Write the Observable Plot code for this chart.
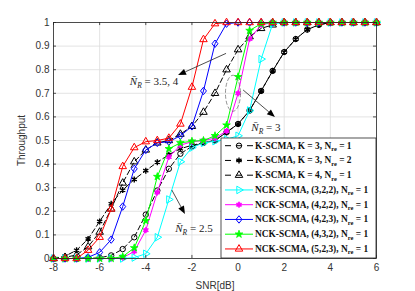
<!DOCTYPE html>
<html><head><meta charset="utf-8">
<script src="https://cdn.jsdelivr.net/npm/d3@7"></script>
<script src="https://cdn.jsdelivr.net/npm/@observablehq/plot@0.6"></script>
<style>body{margin:0;background:#fff}</style>
</head><body><div id="chart"></div>
<script>
const snr = [-8,-7.5,-7,-6.5,-6,-5.5,-5,-4.5,-4,-3.5,-3,-2.5,-2,-1.5,-1,-0.5,0,0.5,1,1.5,2,2.5,3,3.5,4,4.5,5,5.5,6];
const thrK3N1 = [0,0,0,0,0.003,0.013,0.04,0.09,0.186,0.288,0.38,0.444,0.475,0.49,0.5,0.535,0.57,0.627,0.71,0.795,0.875,0.93,0.97,0.99,1,1,1,1,1];
const thrK3N2 = [0,0.01,0.035,0.083,0.157,0.232,0.29,0.335,0.372,0.408,0.44,0.465,0.48,0.49,0.5,0.535,0.57,0.627,0.71,0.795,0.875,0.93,0.97,0.99,1,1,1,1,1];
const thrK4N1 = [0,0.005,0.015,0.05,0.112,0.21,0.32,0.41,0.46,0.49,0.5,0.527,0.56,0.62,0.70,0.80,0.885,0.94,0.975,0.99,1,1,1,1,1,1,1,1,1];
const thr322 = [0,0,0,0,0,0,0,0.004,0.02,0.09,0.25,0.41,0.47,0.49,0.497,0.505,0.52,0.627,0.845,0.995,1,1,1,1,1,1,1,1,1];
const thr422 = [0,0,0,0,0,0,0.003,0.03,0.12,0.28,0.43,0.48,0.495,0.5,0.51,0.54,0.70,0.93,0.99,1,1,1,1,1,1,1,1,1,1];
const thr423 = [0,0,0,0.005,0.026,0.08,0.22,0.38,0.46,0.49,0.495,0.52,0.56,0.71,0.91,0.995,1,1,1,1,1,1,1,1,1,1,1,1,1];
const thr432 = [0,0,0,0,0,0,0.008,0.045,0.16,0.347,0.465,0.49,0.497,0.5,0.52,0.565,0.77,0.966,0.995,1,1,1,1,1,1,1,1,1,1];
const thr523 = [0,0,0,0.035,0.09,0.21,0.39,0.47,0.495,0.5,0.51,0.57,0.726,0.928,0.995,1,1,1,1,1,1,1,1,1,1,1,1,1,1];

const seriesNames = ["K-SCMA, K = 3, N_re = 1","K-SCMA, K = 3, N_re = 2","K-SCMA, K = 4, N_re = 1",
  "NCK-SCMA, (3,2,2), N_re = 1","NCK-SCMA, (4,2,2), N_re = 1","NCK-SCMA, (4,2,3), N_re = 1",
  "NCK-SCMA, (4,3,2), N_re = 1","NCK-SCMA, (5,2,3), N_re = 1"];
const xTicks = [-8,-6,-4,-2,0,2,4,6];
const yTicks = [0,0.1,0.2,0.3,0.4,0.5,0.6,0.7,0.8,0.9,1];
const yTickLabels = ["0","0.1","0.2","0.3","0.4","0.5","0.6","0.7","0.8","0.9","1"];

const annoLabels = ["3.5, 4","3","2.5"];
const annoX = [-3.62,1.23,-1.89];
const annoY = [0.75,0.555,0.127];
const arrowX1 = [-0.5,0.24,-2.85], arrowY1 = [0.867,0.712,0.288];
const arrowX2 = [-2.58,1.62,-2.28], arrowY2 = [0.775,0.597,0.186];
const ellipseX = [-0.2], ellipseY = [0.698];

// symbols
const triRight = {draw(ctx,size){const y=-Math.sqrt(size/(Math.sqrt(3)*3)); ctx.moveTo(-2*y,0); ctx.lineTo(y,-Math.sqrt(3)*y); ctx.lineTo(y,Math.sqrt(3)*y); ctx.closePath();}};
const hexagram = {draw(ctx,size){const R=Math.sqrt(size/2.2), r=R/Math.sqrt(3); for(let i=0;i<12;i++){const a=i*Math.PI/6-Math.PI/2, rr=i%2?r:R; const px=rr*Math.cos(a), py=rr*Math.sin(a); if(i===0)ctx.moveTo(px,py); else ctx.lineTo(px,py);} ctx.closePath();}};
const diamondM = {draw(ctx,size){const h=Math.sqrt(size)*0.75, w=h*0.8; ctx.moveTo(0,-h); ctx.lineTo(w,0); ctx.lineTo(0,h); ctx.lineTo(-w,0); ctx.closePath();}};
const triUp = {draw(ctx,size){const y=-Math.sqrt(size/(Math.sqrt(3)*3)); ctx.moveTo(0,2*y); ctx.lineTo(-Math.sqrt(3)*y,-y); ctx.lineTo(Math.sqrt(3)*y,-y); ctx.closePath();}};

const styles = [
  {v:thrK3N1, color:"#000", dash:"5,3", sym:d3.symbolCircle, fill:"none", r:2.7, sw:1},
  {v:thrK3N2, color:"#000", dash:"5,3", sym:d3.symbolAsterisk, fill:"none", r:2.8, sw:1.4},
  {v:thrK4N1, color:"#000", dash:"5,3", sym:triUp, fill:"none", r:2.8, sw:1},
  {v:thr322, color:"#00ffff", dash:null, sym:triRight, fill:"none", r:2.8, sw:1},
  {v:thr422, color:"#ff00ff", dash:null, sym:hexagram, fill:"#ff00ff", r:2.5, sw:0.8},
  {v:thr423, color:"#0000ff", dash:null, sym:diamondM, fill:"none", r:2.8, sw:1},
  {v:thr432, color:"#00ff00", dash:null, sym:d3.symbolStar, fill:"#00ff00", r:2.4, sw:0.8},
  {v:thr523, color:"#ff0000", dash:null, sym:triUp, fill:"none", r:2.8, sw:1}
];

const marks = [
  Plot.gridX(xTicks, {stroke:"#dcdcdc", strokeOpacity:1, strokeWidth:0.8}),
  Plot.gridY(yTicks, {stroke:"#dcdcdc", strokeOpacity:1, strokeWidth:0.8}),
];
styles.forEach((s,k)=>{
  const data = snr.map((x,i)=>({x, y:s.v[i]}));
  marks.push(Plot.line(data, {x:"x", y:"y", stroke:s.color, strokeWidth:1, strokeDasharray:s.dash||undefined}));
  marks.push(Plot.dot(data, {x:"x", y:"y", symbol:s.sym, r:s.r, stroke:s.color, fill:s.fill, strokeWidth:s.sw}));
});
marks.push(
  Plot.ruleX(xTicks, {x:d=>d, y1:0, y2:0.013, stroke:"#262626", strokeWidth:0.8}),
  Plot.ruleX(xTicks, {x:d=>d, y1:0.987, y2:1, stroke:"#262626", strokeWidth:0.8}),
  Plot.ruleY(yTicks, {y:d=>d, x1:-8, x2:-7.87, stroke:"#262626", strokeWidth:0.8}),
  Plot.ruleY(yTicks, {y:d=>d, x1:5.87, x2:6, stroke:"#262626", strokeWidth:0.8}),
  Plot.frame({stroke:"#262626", strokeWidth:0.8}),
  Plot.axisX(xTicks, {tickSize:0, tickPadding:5, tickFormat:d=>String(d), fontSize:10, fill:"#333",
    label:"SNR[dB]", labelAnchor:"center", labelArrow:false, labelOffset:30}),
  Plot.axisY(yTicks, {tickSize:0, tickPadding:4, tickFormat:(d,i)=>yTickLabels[i], fontSize:10, fill:"#333",
    label:"Throughput", labelAnchor:"center", labelArrow:false, labelOffset:36})
);

const plot = Plot.plot({
  width:415, height:291, marginLeft:53, marginRight:39, marginTop:22, marginBottom:33,
  style:{fontFamily:"Liberation Sans, Arial, sans-serif", fontSize:"10px", color:"#333", background:"#fff"},
  x:{domain:[-8,6]}, y:{domain:[0,1]},
  marks
});
document.getElementById("chart").appendChild(plot);

const svg = d3.select(plot);
const xs = plot.scale("x"), ys = plot.scale("y");
const X = v=>xs.apply(v), Y = v=>ys.apply(v);

// annotations
const ann = svg.append("g");
ann.append("ellipse").attr("cx",X(ellipseX[0])).attr("cy",Y(ellipseY[0])).attr("rx",7.5).attr("ry",18)
  .attr("fill","none").attr("stroke","#777").attr("stroke-width",0.8).attr("stroke-dasharray","4,2");
for(let i=0;i<3;i++){
  const x1=X(arrowX1[i]), y1=Y(arrowY1[i]), x2=X(arrowX2[i]), y2=Y(arrowY2[i]);
  const ang=Math.atan2(y2-y1,x2-x1), L=8, W=3.2;
  const bx=x2-L*Math.cos(ang), by=y2-L*Math.sin(ang);
  ann.append("line").attr("x1",x1).attr("y1",y1).attr("x2",bx).attr("y2",by).attr("stroke","#222").attr("stroke-width",0.8);
  ann.append("path").attr("d",`M${x2},${y2}L${bx+W*Math.sin(ang)},${by-W*Math.cos(ang)}L${bx-W*Math.sin(ang)},${by+W*Math.cos(ang)}Z`).attr("fill","#000");
  const t = ann.append("text").attr("x",X(annoX[i])).attr("y",Y(annoY[i])+4).attr("text-anchor","middle")
    .attr("font-family","Liberation Serif, serif").attr("font-size",11).attr("fill","#222");
  t.append("tspan").attr("font-style","italic").text("N\u0304");
  t.append("tspan").attr("font-style","italic").attr("font-size",7.5).attr("dy",2.5).text("R");
  t.append("tspan").attr("dy",-2.5).text(" = "+annoLabels[i]);
}

// legend
const lg = svg.append("g").attr("text-anchor","start");
lg.append("rect").attr("x",221).attr("y",138).attr("width",155).attr("height",120).attr("fill","#fff").attr("stroke","#262626").attr("stroke-width",0.8);
styles.forEach((s,k)=>{
  const cy = 145.7 + k*14.75;
  if(s.dash){
    [[225,231],[236,242],[247,253]].forEach(([a,b])=>
      lg.append("line").attr("x1",a).attr("x2",b).attr("y1",cy).attr("y2",cy).attr("stroke",s.color).attr("stroke-width",1));
  } else {
    lg.append("line").attr("x1",225).attr("x2",253).attr("y1",cy).attr("y2",cy).attr("stroke",s.color).attr("stroke-width",1);
  }
  lg.append("path").attr("transform",`translate(239,${cy})`).attr("d",d3.symbol(s.sym, s.r*s.r*Math.PI)())
    .attr("fill",s.fill).attr("stroke",s.color).attr("stroke-width",s.sw);
  const parts = seriesNames[k].split("_re");
  const t = lg.append("text").attr("x",255).attr("y",cy+3).attr("text-anchor","start").attr("font-family","Liberation Serif, serif")
    .attr("font-weight","bold").attr("font-size",9.4).attr("fill","#111");
  t.append("tspan").text(parts[0]);
  t.append("tspan").attr("font-size",6.5).attr("dy",2.5).text("re");
  t.append("tspan").attr("dy",-2.5).text(parts[1]);
});
</script></body></html>
